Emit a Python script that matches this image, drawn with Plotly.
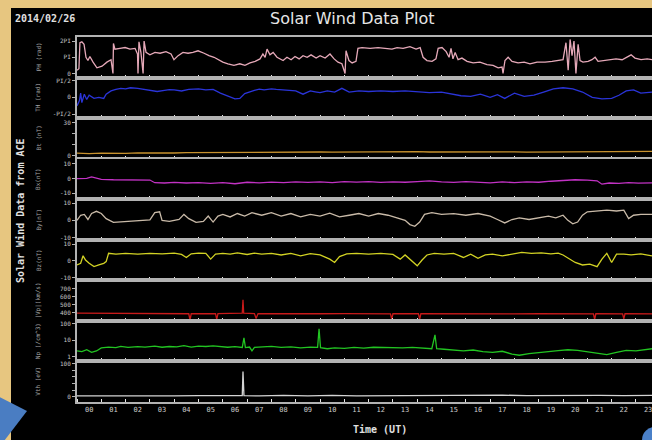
import numpy as np
import plotly.graph_objects as go
from plotly.subplots import make_subplots

PI = np.pi

# ---------------- data (time in hours UT) ----------------
ph_t = [0.0, 0.08, 0.12, 0.2, 0.29, 0.37, 0.45, 0.53, 0.66, 0.82, 1.03, 1.23, 1.4, 1.48, 1.5, 1.56,
        1.77, 1.98, 2.18, 2.39, 2.49, 2.51, 2.55, 2.63, 2.72, 2.76, 2.84, 3.0, 3.21, 3.42, 3.66, 3.87,
        3.99, 4.16, 4.36, 4.57, 4.77, 4.98, 5.23, 5.43, 5.64, 5.8, 6.0, 6.21, 6.46, 6.7, 6.91, 7.12,
        7.33, 7.53, 7.65, 7.74, 7.82, 7.94, 8.07, 8.23, 8.35, 8.48, 8.64, 8.81, 8.97, 9.14, 9.3, 9.47,
        9.63, 9.84, 10.0, 10.21, 10.41, 10.58, 10.74, 10.9, 11.03, 11.07, 11.19, 11.32, 11.48, 11.56,
        11.73, 12.06, 12.39, 12.67, 12.96, 13.17, 13.42, 13.7, 13.95, 14.12, 14.24, 14.4, 14.61, 14.77,
        14.86, 15.02, 15.19, 15.31, 15.39, 15.47, 15.56, 15.68, 15.84, 16.05, 16.3, 16.58, 16.87, 17.12,
        17.33, 17.49, 17.53, 17.61, 17.74, 17.9, 18.15, 18.4, 18.64, 18.93, 19.26, 19.55, 19.79, 20.0,
        20.12, 20.21, 20.29, 20.37, 20.45, 20.53, 20.62, 20.7, 20.82, 21.03, 21.19, 21.32, 21.44, 21.69,
        21.93, 22.18, 22.43, 22.63, 22.8, 22.96, 23.21, 23.46, 23.66]
# phase angle in multiples of PI
ph_pi = [0.2, 0.3, 1.9, 1.95, 1.8, 1.0, 0.8, 1.05, 0.7, 0.35, 0.45, 0.7, 0.85, 0.0, 1.85, 1.5,
         1.55, 1.6, 1.5, 1.55, 1.2, 0.0, 1.95, 1.3, 0.0, 2.0, 1.3, 1.15, 1.3, 1.25, 1.35, 1.2,
         0.85, 1.1, 1.3, 1.25, 1.3, 1.4, 1.25, 1.1, 1.0, 0.85, 0.7, 0.6, 0.5, 0.6, 0.5, 0.65,
         0.75, 0.9, 1.2, 1.0, 1.5, 1.15, 1.3, 1.0, 0.9, 0.8, 1.0, 0.85, 1.05, 0.9, 1.1, 1.0,
         1.15, 0.95, 1.1, 0.95, 1.2, 0.9, 0.7, 0.6, 0.0, 1.4, 0.8, 0.65, 0.75, 1.55,
         1.6, 1.55, 1.6, 1.55, 1.5, 1.6, 1.55, 1.65, 1.5, 1.6, 1.0, 0.8, 0.75, 0.9,
         1.55, 1.6, 1.35, 1.0, 1.55, 0.9, 1.3, 0.85, 0.95, 0.75, 0.65, 0.7, 0.55, 0.5,
         0.35, 0.4, 0.0, 0.8, 1.0, 0.75, 0.65, 0.7, 0.6, 0.7, 0.7, 0.75, 0.8, 0.85,
         1.9, 0.2, 2.1, 1.1, 2.0, 0.0, 1.8, 0.8, 0.7, 0.75, 0.85, 1.0, 0.75, 0.8,
         0.85, 0.9, 0.85, 1.0, 1.15, 0.95, 0.85, 0.9, 0.85]

th_t = [0.0, 0.1, 0.15, 0.2, 0.3, 0.4, 0.5, 0.7, 0.9, 1.1, 1.2, 1.4, 1.6, 1.8, 2.0, 2.2, 2.5, 2.8, 3.0,
        3.3, 3.6, 3.8, 4.0, 4.3, 4.6, 5.0, 5.3, 5.6, 5.9, 6.2, 6.5, 6.7, 6.9, 7.3, 7.5, 7.7, 8.0, 8.2, 8.6,
        9.0, 9.3, 9.6, 9.8, 10.0, 10.3, 10.6, 10.9, 11.2, 11.6, 12.0, 12.5, 13.0, 13.5, 14.0, 14.5, 15.0,
        15.4, 15.8, 16.2, 16.6, 17.0, 17.3, 17.6, 18.0, 18.4, 18.8, 19.2, 19.6, 20.0, 20.4, 20.8, 21.2,
        21.6, 22.0, 22.3, 22.6, 22.9, 23.2, 23.66]
th_rad = [-0.8, -0.3, 0.4, -0.5, 0.3, -0.2, 0.2, -0.1, 0.0, -0.1, 0.3, 0.6, 0.75, 0.85, 0.8, 0.9, 0.85, 0.75, 0.7,
          0.55, 0.65, 0.72, 0.7, 0.6, 0.75, 0.8, 0.7, 0.75, 0.4, 0.1, -0.15, -0.1, 0.35, 0.65, 0.78, 0.7, 0.8, 0.75, 0.7,
          0.6, 0.3, 0.6, 0.52, 0.45, 0.6, 0.5, 0.85, 0.5, 0.6, 0.55, 0.6, 0.55, 0.6, 0.5, 0.45, 0.5,
          0.35, 0.15, 0.1, 0.3, 0.0, 0.25, -0.1, 0.4, 0.1, 0.2, 0.5, 0.8, 0.9, 0.8, 0.5, 0.0,
          -0.15, -0.1, 0.2, 0.6, 0.7, 0.4, 0.5]

bt_t = [0.0, 0.5, 1.0, 1.5, 2.0, 2.5, 3.0, 3.5, 4.0, 4.5, 5.0, 5.5, 6.0, 6.5, 7.0, 7.5, 8.0, 8.5,
        9.0, 9.5, 10.0, 10.5, 11.0, 11.5, 12.0, 12.5, 13.0, 13.5, 14.0, 14.5, 15.0, 15.5, 16.0, 16.5,
        17.0, 17.5, 18.0, 18.5, 19.0, 19.5, 20.0, 20.5, 21.0, 21.5, 22.0, 22.5, 23.0, 23.66]
bt_nt = [2.5, 2.0, 2.5, 2.2, 2.3, 2.7, 2.5, 2.8, 2.6, 2.9, 3.0, 2.7, 2.7, 3.0, 3.2, 3.4, 3.5, 3.2,
         3.3, 3.6, 3.5, 3.3, 3.4, 3.7, 3.6, 3.4, 3.5, 3.8, 3.8, 3.5, 3.6, 3.3, 3.4, 3.7,
         3.8, 3.5, 3.6, 3.4, 3.5, 3.8, 3.9, 4.1, 4.2, 3.9, 4.0, 4.3, 4.3, 4.1]

bx_t = [0.0, 0.4, 0.6, 0.8, 1.0, 1.5, 2.0, 2.5, 3.0, 3.2, 3.6, 4.0, 4.5, 5.0, 5.5, 6.0, 6.5, 7.0,
        7.5, 8.0, 8.5, 9.0, 9.5, 10.0, 10.5, 11.0, 11.5, 12.0, 12.5, 13.0, 13.5, 14.0, 14.5, 15.0,
        15.5, 16.0, 16.5, 17.0, 17.5, 18.0, 18.5, 19.0, 19.5, 20.0, 20.5, 21.0, 21.4, 21.6, 21.9,
        22.3, 22.7, 23.1, 23.66]
bx_nt = [0.0, 0.2, 1.2, 0.4, -0.5, -0.8, -1.0, -0.7, -1.0, -2.8, -3.0, -2.6, -3.0, -2.7, -3.2, -2.8, -3.5, -2.5,
         -2.9, -2.4, -2.7, -2.2, -2.6, -2.3, -2.8, -2.0, -2.4, -2.1, -2.6, -2.2, -2.5, -2.0, -1.6, -2.2,
         -2.6, -2.0, -2.5, -2.9, -2.3, -2.7, -2.2, -2.5, -1.8, -1.2, -0.8, -1.0, -1.5, -3.8, -3.0,
         -3.3, -2.8, -3.1, -2.9]

by_t = [0.0, 0.15, 0.3, 0.45, 0.6, 0.8, 1.0, 1.2, 1.5, 2.0, 2.5, 3.0, 3.2, 3.4, 3.5, 3.8, 4.2, 4.4,
        4.6, 4.9, 5.2, 5.4, 5.6, 5.8, 6.0, 6.3, 6.6, 6.9, 7.2, 7.6, 8.0, 8.4, 8.8, 9.2, 9.6, 10.0,
        10.4, 10.8, 11.2, 11.6, 12.0, 12.4, 12.8, 13.2, 13.5, 13.7, 13.9, 14.1, 14.3, 14.6, 15.0, 15.5,
        16.0, 16.5, 17.0, 17.3, 17.6, 17.9, 18.2, 18.6, 19.0, 19.4, 19.7, 20.0, 20.2, 20.4, 20.6, 20.8,
        21.0, 21.4, 21.8, 22.2, 22.5, 22.7, 22.9, 23.2, 23.66]
by_nt = [0.0, 3.0, 3.5, 0.5, 4.0, 5.3, 4.0, 1.0, -1.2, -0.6, -0.3, 0.3, 4.5, 5.0, 0.0, -0.6, 0.6, 3.5,
         1.0, -1.2, -0.6, 2.5, -1.0, 2.5, 3.5, 2.0, 4.0, 2.5, 4.5, 3.0, 4.5, 2.5, 4.0, 2.0, 3.5, 2.5,
         4.2, 2.0, 3.0, 4.0, 2.5, 4.0, 3.0, 1.5, 0.0, -2.5, -3.5, -1.0, 3.5, 4.5, 3.5, 4.0,
         3.0, 4.0, 2.5, 0.5, -1.5, 0.5, 1.5, 0.5, 1.5, 2.5, 1.5, 3.0, 0.0, -2.0, -1.0, 3.0,
         5.0, 5.5, 6.0, 5.5, 6.0, 1.0, 3.0, 3.5, 3.5]

bz_t = [0.0, 0.15, 0.25, 0.35, 0.5, 0.7, 0.9, 1.1, 1.2, 1.3, 1.6, 2.0, 2.5, 3.0, 3.5, 4.0, 4.3, 4.5,
        4.7, 5.0, 5.3, 5.5, 5.7, 6.0, 6.3, 6.6, 7.0, 7.3, 7.6, 8.0, 8.4, 8.8, 9.2, 9.6, 10.0, 10.4,
        10.6, 10.8, 11.1, 11.5, 12.0, 12.5, 13.0, 13.3, 13.5, 13.8, 14.0, 14.2, 14.4, 14.7, 15.1, 15.5,
        15.9, 16.2, 16.5, 16.8, 17.1, 17.5, 17.9, 18.3, 18.7, 19.1, 19.5, 19.8, 20.0, 20.3, 20.5, 20.8,
        21.1, 21.4, 21.6, 21.8, 22.0, 22.2, 22.5, 22.8, 23.2, 23.66]
bz_nt = [-2.5, -1.5, 3.0, 0.5, -1.5, -3.5, -2.5, -1.5, -0.5, 4.5, 4.0, 4.5, 4.0, 4.5, 4.2, 4.6, 3.8, 2.0,
         4.2, 4.6, 4.5, 1.0, 4.0, 4.5, 4.0, 4.8, 3.8, 4.6, 4.0, 4.5, 3.5, 4.5, 3.0, 4.3, 3.6, 1.0,
         -1.0, 2.5, 4.2, 4.5, 4.0, 4.5, 3.8, 1.0, 3.5, -0.5, -3.0, 0.5, 3.5, 4.5, 4.0, 4.5,
         2.0, 4.0, 1.5, 3.5, 4.0, 3.0, 4.2, 5.0, 4.5, 4.8, 4.2, 4.6, 3.5, 1.0, -1.0, -2.5,
         -2.0, -3.5, 1.0, 4.5, -1.0, 4.0, 4.0, 3.5, 4.2, 3.0]

vp_t = [0.0, 1.0, 2.0, 3.0, 4.0, 4.6, 4.65, 4.7, 5.7, 5.75, 5.8, 6.5, 6.8, 6.83, 6.86, 7.3, 7.37, 7.45,
        8.0, 9.0, 10.0, 11.0, 12.0, 12.9, 12.95, 13.0, 14.05, 14.1, 14.15, 15.0, 16.0, 17.0, 18.0,
        19.0, 20.0, 21.25, 21.3, 21.35, 22.45, 22.5, 22.55, 23.66]
vp_kms = [395, 392, 390, 392, 390, 388, 310, 388, 390, 320, 390, 392, 395, 560, 395, 390, 330, 390,
          388, 390, 388, 390, 388, 387, 320, 388, 388, 320, 390, 388, 386, 388, 386,
          388, 386, 386, 320, 388, 386, 325, 388, 386]

np_t = [0.0, 0.2, 0.4, 0.6, 0.8, 1.0, 1.3, 1.6, 1.8, 2.1, 2.5, 2.8, 3.2, 3.5, 3.8, 4.1, 4.4, 4.7,
        5.0, 5.3, 5.6, 5.9, 6.2, 6.5, 6.8, 6.87, 6.93, 7.1, 7.2, 7.3, 7.6, 8.0, 8.4, 8.8, 9.2, 9.6,
        9.9, 9.96, 10.02, 10.3, 10.6, 11.0, 11.4, 11.8, 12.2, 12.6, 13.0, 13.4, 13.8, 14.2, 14.6, 14.73,
        14.8, 15.1, 15.5, 15.9, 16.3, 16.7, 17.1, 17.5, 17.9, 18.2, 18.6, 19.0, 19.4, 19.8, 20.2, 20.6,
        21.0, 21.4, 21.8, 22.2, 22.6, 23.0, 23.4, 23.66]
np_cc = [2.2, 2.0, 2.6, 1.8, 2.2, 3.4, 3.8, 3.5, 4.2, 3.6, 4.0, 3.8, 4.3, 3.7, 4.1, 3.9, 4.6, 3.8,
         4.3, 4.1, 4.5, 4.0, 3.7, 4.0, 3.6, 14.0, 3.5, 3.8, 2.2, 3.6, 4.0, 4.2, 3.6, 3.9, 3.4, 3.8,
         3.6, 50.0, 3.5, 3.0, 3.4, 3.2, 3.6, 3.3, 3.7, 3.5, 3.6, 3.4, 3.6, 3.3, 3.0, 21.0,
         3.0, 2.8, 2.5, 2.2, 2.5, 2.0, 1.8, 2.1, 1.4, 1.2, 1.5, 1.8, 2.0, 2.3, 2.6, 2.4,
         2.0, 1.6, 1.3, 1.8, 2.4, 2.2, 2.8, 3.0]

vth_t = [0.0, 1.0, 2.0, 3.0, 4.0, 5.0, 6.0, 6.8, 6.83, 6.87, 7.5, 8.5, 9.5, 10.5, 11.5, 12.5, 13.5,
         14.5, 15.5, 16.5, 17.5, 18.5, 19.5, 20.5, 21.5, 22.5, 23.66]
vth_ev = [3.0, 2.5, 3.0, 3.5, 3.0, 4.0, 3.0, 4.0, 76.0, 4.0, 3.0, 4.5, 3.5, 5.0, 3.5, 4.0, 3.0,
          4.0, 5.0, 4.0, 5.5, 4.0, 5.0, 4.0, 5.0, 4.0, 4.5]

hours = list(range(24))
hour_labels = ["%02d" % h for h in hours]

# ---------------- figure geometry ----------------
W, H = 652, 440
ML, MR, MT, MB = 77, 0, 37, 38
PW, PHH = W - ML - MR, H - MT - MB


def xp(px):
    return (px - ML) / PW


def yp(py):
    return (H - MB - py) / PHH


MONO = "DejaVu Sans Mono"
FRAME = "#b2b2b2"

panels = [
    dict(t=ph_t, v=list(np.array(ph_pi) * PI), color="#e6a9b9", rng=[-0.25 * PI, 2.25 * PI],
         tv=[0, PI, 2 * PI], tt=["0", "PI", "2PI"], label="PH (rad)", zero=False, log=False),
    dict(t=th_t, v=th_rad, color="#2a34d8", rng=[-1.95, 1.86],
         tv=[-PI / 2, 0, PI / 2], tt=["-PI/2", "0", "PI/2"], label="TH (rad)", zero=True, log=False),
    dict(t=bt_t, v=bt_nt, color="#c8922e", rng=[-2.5, 34],
         tv=[0, 10, 20, 30], tt=["0", "", "", "30"], label="Bt (nT)", zero=False, log=False),
    dict(t=bx_t, v=bx_nt, color="#c232c4", rng=[-14, 13.5],
         tv=[-10, 0, 10], tt=["-10", "0", "10"], label="Bx(nT)", zero=True, log=False),
    dict(t=by_t, v=by_nt, color="#c9baa8", rng=[-11.4, 12.4],
         tv=[-10, 0, 10], tt=["-10", "0", "10"], label="By(nT)", zero=True, log=False),
    dict(t=bz_t, v=bz_nt, color="#d2d224", rng=[-11.7, 12.6],
         tv=[-10, 0, 10], tt=["-10", "0", "10"], label="Bz(nT)", zero=True, log=False),
    dict(t=vp_t, v=vp_kms, color="#c81a1a", rng=[300, 800],
         tv=[400, 500, 600, 700], tt=["400", "500", "600", "700"], label="|Vp|(km/s)", zero=False, log=False),
    dict(t=np_t, v=np_cc, color="#22c422", rng=[-0.3, 2.18],
         tv=[1, 10, 100], tt=["1", "10", "100"], label="Np (/cm^3)", zero=False, log=True),
    dict(t=vth_t, v=vth_ev, color="#d4d4d4", rng=[-15, 106],
         tv=[0, 20, 40, 60, 80, 100], tt=["0", "", "", "", "", "100"], label="Vth (eV)", zero=False, log=False),
]

n = len(panels)
fig = make_subplots(rows=n, cols=1, shared_xaxes=True, vertical_spacing=0)

for i, p in enumerate(panels):
    r = i + 1
    fig.add_trace(go.Scatter(x=p["t"], y=p["v"], mode="lines",
                             line=dict(color=p["color"], width=1.3),
                             showlegend=False, hoverinfo="skip"), row=r, col=1)
    fig.update_yaxes(row=r, col=1, range=p["rng"], type="log" if p["log"] else "linear",
                     tickmode="array", tickvals=p["tv"], ticktext=p["tt"],
                     showline=True, linecolor=FRAME, linewidth=2,
                     ticks="outside", ticklen=3, tickcolor=FRAME, tickwidth=1,
                     tickfont=dict(family=MONO, size=6, color="#c4c4c4"),
                     showgrid=False, zeroline=False, fixedrange=True)
    fig.update_xaxes(row=r, col=1, range=[0, 23.66], showline=True, linecolor=FRAME, linewidth=2,
                     mirror=True, ticks="inside", ticklen=3, tickcolor="#e8e8e8", tickwidth=1,
                     tickmode="array", tickvals=hours, showticklabels=False,
                     showgrid=False, zeroline=False)
    if p["zero"]:
        fig.add_hline(y=0, row=r, col=1, layer="below",
                      line=dict(color="#bdbdbd", width=1, dash="2px,4px"))

# bottom axis: hour names centred between the hourly ticks
fig.update_xaxes(row=n, col=1, tickvals=[h + 0.5 for h in hours], ticktext=hour_labels,
                 ticks="", showticklabels=True, ticklabeloverflow="allow",
                 tickfont=dict(family=MONO, size=7, color="#cccccc"),
                 minor=dict(tickmode="array", tickvals=hours, ticks="inside", ticklen=3,
                            tickcolor="#e8e8e8", tickwidth=1, showgrid=False))

# panel labels
annotations = []
for i, p in enumerate(panels):
    top = MT + i * PHH / n
    mid = top + PHH / (2 * n)
    annotations.append(dict(text=p["label"], x=xp(38), y=yp(mid), xref="paper", yref="paper",
                            textangle=-90, showarrow=False, xanchor="center", yanchor="middle",
                            font=dict(family=MONO, size=6, color="#a4a4a4")))

annotations += [
    dict(text="Solar Wind Data Plot", x=xp(352), y=yp(18.5), xref="paper", yref="paper",
         showarrow=False, xanchor="center", yanchor="middle",
         font=dict(family="DejaVu Sans", size=16, color="#e6e6e6")),
    dict(text="<b>2014/02/26</b>", x=xp(13), y=yp(18), xref="paper", yref="paper",
         showarrow=False, xanchor="left", yanchor="middle",
         font=dict(family=MONO, size=10, color="#e0e0e0")),
    dict(text="<b>Solar Wind Data from ACE</b>", x=xp(20), y=yp(211), xref="paper", yref="paper",
         textangle=-90, showarrow=False, xanchor="center", yanchor="middle",
         font=dict(family=MONO, size=10, color="#e0e0e0")),
    dict(text="<b>Time (UT)</b>", x=xp(380), y=yp(429), xref="paper", yref="paper",
         showarrow=False, xanchor="center", yanchor="middle",
         font=dict(family=MONO, size=10, color="#e0e0e0")),
]

shapes = [
    # dark board behind the plot
    dict(type="rect", xref="paper", yref="paper", x0=xp(11), x1=xp(660), y0=yp(8), y1=yp(450),
         fillcolor="#000000", line=dict(width=0), layer="below"),
    # blue corner marks
    dict(type="path", xref="paper", yref="paper",
         path="M %f %f L %f %f L %f %f Z" % (xp(-12), yp(391), xp(27), yp(411), xp(-12), yp(462)),
         fillcolor="#4a7dc2", line=dict(width=0), layer="above"),
    dict(type="circle", xref="paper", yref="paper", x0=xp(642), x1=xp(668), y0=yp(427), y1=yp(453),
         fillcolor="#4a80c8", line=dict(width=0), layer="above"),
]

fig.update_layout(width=W, height=H, margin=dict(l=ML, r=MR, t=MT, b=MB),
                  paper_bgcolor="#e7c680", plot_bgcolor="#000000",
                  annotations=annotations, shapes=list(fig.layout.shapes) + shapes,
                  showlegend=False)

fig.write_html("out.html")
